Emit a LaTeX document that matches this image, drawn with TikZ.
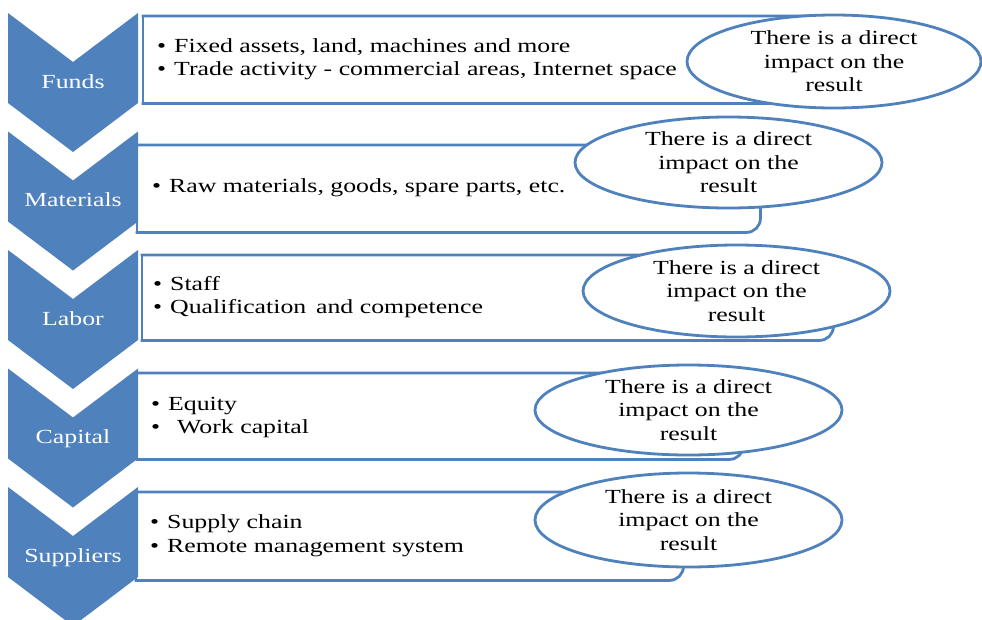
\documentclass[tikz,border=0pt]{standalone}
\usepackage{fontspec}
\setmainfont{Liberation Serif}[FakeStretch=1.29]
\usetikzlibrary{shapes.geometric}
\definecolor{accent}{HTML}{4F81BD}
\newcommand\bodyfont{\fontsize{20}{23.5}\selectfont}
\newcommand\itm[1]{\makebox[17pt][l]{\textbullet}#1}

\begin{document}
\begin{tikzpicture}[x=1pt,y=-1pt,
  chev/.style={fill=accent, draw=none},
  panel/.style={draw=none, fill=white, inner sep=0pt, anchor=north west},
  rim/.style={draw=accent, line width=2.8pt, rounded corners=14pt, line cap=rect},
  edge/.style={draw=accent, line width=2.8pt, line cap=rect},
  bubble/.style={ellipse, draw=accent, line width=2.8pt, fill=white, inner sep=0pt},
  note/.style={align=center, font=\bodyfont, inner sep=0pt, text=black},
  lab/.style={text=white, font=\bodyfont, anchor=base, inner sep=0pt},
  row/.style={anchor=base west, inner sep=0pt, font=\bodyfont, text=black}]

\useasboundingbox (0,0) rectangle (982,619);
\fill[white] (0,0) rectangle (982,619);

% panels: square left corners, rounded right corners
\foreach \n/\l/\t/\r/\b in {p1/143/16/850/103, p2/137/145/760/232, p3/142/255/833/340,
                            p4/137/373/743/459, p5/136/492/683/580} {
  \node[panel, minimum width={\r-\l}, minimum height={\b-\t}] (\n) at (\l,\t) {};
  \draw[rim] (\n.north west) -- (\n.north east) -- (\n.south east) -- (\n.south west);
  \draw[edge] (\n.north west) -- (\n.south west);
}

% chevrons with their labels
\foreach \t/\txt/\n in {13/Funds/c1, 131.5/Materials/c2, 250/Labor/c3,
                        368.5/Capital/c4, 487/Suppliers/c5} {
  \fill[chev] (8,\t) -- (73,{\t+49}) -- (138,\t) -- (138,{\t+90})
              -- (73,{\t+139}) -- (8,{\t+90}) -- cycle;
  \node[lab] (\n) at (73,{\t+75}) {\txt};
}

% bullet lines
\node[row] (r11) at (157,52) {\itm{Fixed assets, land, machines and more}};
\node[row] (r12) at (157,75) {\itm{Trade activity - commercial areas, Internet space}};
\node[row] (r21) at (152,192) {\itm{Raw materials, goods, spare parts, etc.}};
\node[row] (r31) at (153,290) {\itm{Staff}};
\node[row] (r32) at (153,313) {\itm{Qualification\, and competence}};
\node[row] (r41) at (151,410) {\itm{Equity}};
\node[row] (r42) at (151,433) {\itm{\hspace{9pt}Work capital}};
\node[row] (r51) at (150,528) {\itm{Supply chain}};
\node[row] (r52) at (150,552) {\itm{Remote management system}};

% impact ellipses
\foreach \n/\x/\y/\rx/\ry in {e1/834/61.5/147/46.5, e2/728.5/162.5/153.5/45.5,
                              e3/736.5/291/153.5/46, e4/688.5/410/153.5/45,
                              e5/688.5/520/153.5/47} {
  \node[bubble, minimum width={2*\rx}, minimum height={2*\ry}] (\n) at (\x,\y) {};
  \node[note] (t\n) at (\n.center) {There is a direct\\impact on the\\result};
}
\end{tikzpicture}
\end{document}
